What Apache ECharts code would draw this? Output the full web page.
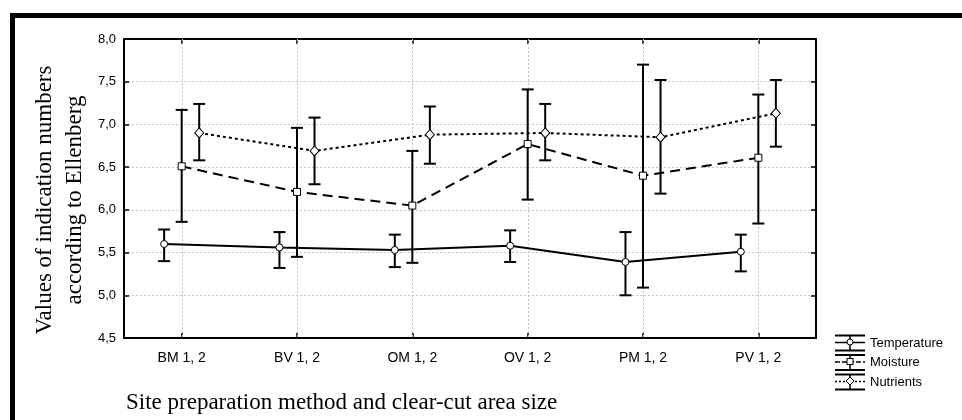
<!DOCTYPE html>
<html><head><meta charset="utf-8">
<script src="https://cdn.jsdelivr.net/npm/echarts@6/dist/echarts.min.js"></script>
<style>html,body{margin:0;padding:0;background:#fff}#c{width:962px;height:420px}</style>
</head><body><div id="c"></div>
<script>
const categories = ['BM 1, 2','BV 1, 2','OM 1, 2','OV 1, 2','PM 1, 2','PV 1, 2'];
const seriesNames = ['Temperature','Moisture','Nutrients'];
const tempMean = [5.60, 5.56, 5.53, 5.58, 5.39, 5.51];
const tempLow  = [5.40, 5.32, 5.33, 5.39, 5.00, 5.28];
const tempHigh = [5.77, 5.74, 5.71, 5.76, 5.74, 5.71];
const moistMean = [6.51, 6.21, 6.05, 6.77, 6.40, 6.61];
const moistLow  = [5.86, 5.45, 5.38, 6.12, 5.09, 5.84];
const moistHigh = [7.17, 6.96, 6.69, 7.41, 7.70, 7.35];
const nutMean = [6.90, 6.69, 6.88, 6.90, 6.85, 7.13];
const nutLow  = [6.58, 6.30, 6.54, 6.58, 6.19, 6.74];
const nutHigh = [7.24, 7.08, 7.21, 7.24, 7.52, 7.52];
const yMin = 4.5, yMax = 8.0, yStep = 0.5;
const yTitle = 'Values of indication numbers\naccording to Ellenberg';
const xTitle = 'Site preparation method and clear-cut area size';

const chart = echarts.init(document.getElementById('c'), null, {renderer: 'canvas'});
const offsets = [-0.152, 0, 0.152];
const symbols = ['circle', 'rect', 'diamond'];
const symSizes = [7, 7, [9, 10]];
const dashes = ['solid', [10, 6], [3, 3]];
const means = [tempMean, moistMean, nutMean];
const lows = [tempLow, moistLow, nutLow];
const highs = [tempHigh, moistHigh, nutHigh];
const gridColor = '#c4c4c4';
const sans = '"Liberation Sans", Arial, sans-serif';
const serif = '"Liberation Serif", "Times New Roman", serif';

function errRender(params, api) {
  const x = api.value(0);
  const lo = api.coord([x, api.value(1)]);
  const hi = api.coord([x, api.value(2)]);
  const w = 6;
  const st = {stroke: '#000', lineWidth: 2};
  return {type: 'group', children: [
    {type: 'line', shape: {x1: lo[0], y1: lo[1], x2: hi[0], y2: hi[1]}, style: st},
    {type: 'line', shape: {x1: lo[0] - w, y1: lo[1], x2: lo[0] + w, y2: lo[1]}, style: st},
    {type: 'line', shape: {x1: hi[0] - w, y1: hi[1], x2: hi[0] + w, y2: hi[1]}, style: st}
  ]};
}
function gridRender(params, api) {
  const cs = params.coordSys;
  const px = Math.round(api.coord([api.value(0), yMin])[0]) + 0.5;
  return {type: 'line', shape: {x1: px, y1: cs.y, x2: px, y2: cs.y + cs.height},
    style: {stroke: gridColor, lineWidth: 1, lineDash: [2, 2]}};
}

function iconSvg(k) {
  const dash = k === 0 ? '' : (k === 1 ? ' stroke-dasharray="5,2"' : ' stroke-dasharray="2,2"');
  let sym;
  if (k === 0) sym = '<circle cx="15" cy="8" r="3" fill="#fff" stroke="#000" stroke-width="1"/>';
  else if (k === 1) sym = '<rect x="12" y="5" width="6" height="6" fill="#fff" stroke="#000" stroke-width="1"/>';
  else sym = '<polygon points="15,4 19,8 15,12 11,8" fill="#fff" stroke="#000" stroke-width="1"/>';
  const svg = '<svg xmlns="http://www.w3.org/2000/svg" width="30" height="18" viewBox="0 0 30 18">' +
    '<line x1="0" y1="1.5" x2="30" y2="1.5" stroke="#000" stroke-width="2"/>' +
    '<line x1="0" y1="16.5" x2="30" y2="16.5" stroke="#000" stroke-width="2"/>' +
    '<line x1="15" y1="1.5" x2="15" y2="16.5" stroke="#000" stroke-width="1.5"/>' +
    '<line x1="0" y1="8.5" x2="30" y2="8.5" stroke="#000" stroke-width="1.5"' + dash + '/>' +
    sym + '</svg>';
  return 'image://data:image/svg+xml;charset=utf-8,' + encodeURIComponent(svg);
}

const series = [];
// vertical grid lines at category centres
series.push({
  type: 'custom', xAxisIndex: 0, yAxisIndex: 0, silent: true, z: 1,
  renderItem: gridRender, encode: {x: 0},
  data: categories.map(c => [c])
});
for (let k = 0; k < 3; k++) {
  series.push({
    name: seriesNames[k], type: 'custom', xAxisIndex: 1, yAxisIndex: 0, z: 3,
    renderItem: errRender, encode: {x: 0, y: [1, 2]},
    data: lows[k].map((l, i) => [i + offsets[k], l, highs[k][i]])
  });
}
for (let k = 0; k < 3; k++) {
  series.push({
    name: seriesNames[k], type: 'line', xAxisIndex: 1, yAxisIndex: 0, z: 4,
    data: means[k].map((v, i) => [i + offsets[k], v]),
    symbol: symbols[k], symbolSize: symSizes[k], showSymbol: true,
    lineStyle: {color: '#000', width: 2, type: dashes[k]},
    itemStyle: {color: '#fff', borderColor: '#000', borderWidth: 1},
    emphasis: {disabled: true}, animation: false
  });
}

const axLine = {show: true, onZero: false, lineStyle: {color: '#000', width: 2}};
const tick = {show: true, inside: true, length: 5, lineStyle: {color: '#000', width: 1.5}};

const option = {
  animation: false,
  backgroundColor: '#fff',
  grid: {left: 124, right: 146, top: 39, bottom: 82, containLabel: false},
  xAxis: [
    {type: 'category', data: categories, position: 'bottom',
     axisLine: axLine,
     axisTick: Object.assign({alignWithLabel: true}, tick),
     axisLabel: {color: '#000', fontFamily: sans, fontSize: 14, margin: 13},
     splitLine: {show: false}},
    {type: 'value', min: -0.5, max: 5.5, show: false, position: 'bottom',
     axisLine: {show: false, onZero: false}},
    {type: 'category', data: categories, position: 'top',
     axisLine: axLine,
     axisTick: Object.assign({alignWithLabel: true}, tick),
     axisLabel: {show: false}, splitLine: {show: false}}
  ],
  yAxis: [
    {type: 'value', min: yMin, max: yMax, interval: yStep, position: 'left',
     axisLine: axLine, axisTick: tick,
     axisLabel: {color: '#000', fontFamily: sans, fontSize: 13, margin: 8,
       formatter: v => v.toFixed(1).replace('.', ',')},
     splitLine: {show: true, lineStyle: {color: gridColor, type: [2, 2], width: 1}}},
    {type: 'value', min: yMin, max: yMax, interval: yStep, position: 'right',
     axisLine: axLine, axisTick: tick,
     axisLabel: {show: false}, splitLine: {show: false}}
  ],
  legend: {
    orient: 'vertical', left: 835, top: 334, padding: 0, itemWidth: 30, itemHeight: 18, itemGap: 1.5,
    selectedMode: false,
    textStyle: {color: '#000', fontFamily: sans, fontSize: 13},
    data: seriesNames.map((n, k) => ({name: n, icon: iconSvg(k)}))
  },
  graphic: [
    {type: 'rect', z: 100, silent: true,
     shape: {x: 12.5, y: 15.5, width: 1200, height: 800},
     style: {fill: 'none', stroke: '#000', lineWidth: 5}},
    {type: 'text', z: 100, silent: true, x: 60, y: 200, rotation: Math.PI / 2,
     style: {text: yTitle, fill: '#000', font: '23px ' + serif, align: 'center', verticalAlign: 'middle', lineHeight: 30}},
    {type: 'text', z: 100, silent: true, x: 126, y: 403,
     style: {text: xTitle, fill: '#000', font: '23px ' + serif, align: 'left', verticalAlign: 'middle'}}
  ],
  series: series
};
chart.setOption(option);
</script>
</body></html>
